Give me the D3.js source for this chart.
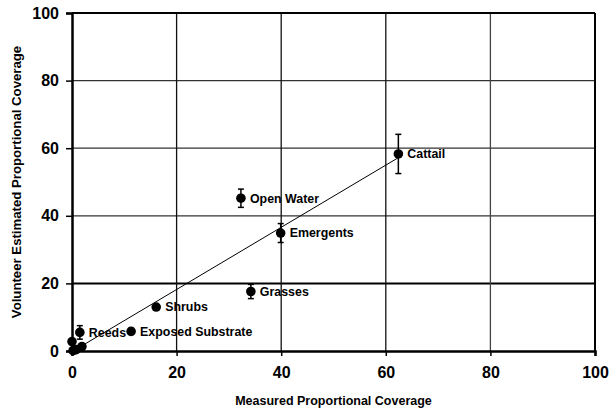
<!DOCTYPE html>
<html>
<head>
<meta charset="utf-8">
<script src="https://cdn.jsdelivr.net/npm/d3@7"></script>
<style>
  body { margin: 0; background: #fff; }
  svg text { font-family: "Liberation Sans", Arial, sans-serif; font-weight: bold; }
</style>
</head>
<body>
<div class="chart"></div>
<script>
// habitat classes, measured vs volunteer estimated coverage
var labels = ["Cattail", "Open Water", "Emergents", "Grasses", "Shrubs", "Exposed Substrate", "Reeds", "", "", "", ""];
var measured = [62.4, 32.3, 39.9, 34.2, 16.1, 11.3, 1.5, 0, 0.2, 1.9, 0.8];
var estimated = [58.3, 45.2, 34.9, 17.6, 13.0, 5.8, 5.5, 2.8, 0.1, 1.3, 0.4];
var errors = [5.8, 2.7, 2.8, 2.1, 0.6, 0.9, 2.0, 0.6, 0.4, 0.5, 0.3];

// fitted trend line (start / end)
var trendX = [0, 62.4];
var trendY = [-0.2, 57.2];

var ticks = [0, 20, 40, 60, 80, 100];

var margin = {top: 13, right: 16, bottom: 63, left: 72},
    width = 611 - margin.left - margin.right,
    height = 414 - margin.top - margin.bottom;

var x = d3.scaleLinear().domain([0, 100]).range([0, width]);
var y = d3.scaleLinear().domain([0, 100]).range([height, 0]);

var svg = d3.select(".chart").append("svg")
  .attr("width", 611)
  .attr("height", 414);

var g = svg.append("g")
  .attr("transform", "translate(" + margin.left + "," + margin.top + ")");

// gridlines
g.append("g").selectAll("line")
  .data(ticks.slice(1, -1))
  .enter().append("line")
  .attr("x1", 0).attr("x2", width)
  .attr("y1", function(d){ return y(d); })
  .attr("y2", function(d){ return y(d); })
  .attr("stroke", function(d){ return d == 20 ? "#000" : "#333"; })
  .attr("stroke-width", function(d){ return d == 20 ? 2 : 1.3; });

g.append("g").selectAll("line")
  .data(ticks.slice(1, -1))
  .enter().append("line")
  .attr("y1", 0).attr("y2", height)
  .attr("x1", function(d){ return x(d); })
  .attr("x2", function(d){ return x(d); })
  .attr("stroke", function(d){ return d == 80 ? "#444" : "#111"; })
  .attr("stroke-width", 1.3);

// top and right border
g.append("line").attr("x1", 0).attr("x2", width).attr("y1", 0).attr("y2", 0)
  .attr("stroke", "#000").attr("stroke-width", 2);
g.append("line").attr("x1", width).attr("x2", width).attr("y1", 0).attr("y2", height)
  .attr("stroke", "#000").attr("stroke-width", 2);

// axes
var xAxis = g.append("g")
  .attr("transform", "translate(0," + height + ")")
  .call(d3.axisBottom(x).tickValues(ticks).tickSize(5).tickPadding(11));
var yAxis = g.append("g")
  .call(d3.axisLeft(y).tickValues(ticks).tickSize(6).tickPadding(7));

[xAxis, yAxis].forEach(function(a){
  a.select(".domain").attr("stroke", "#000").attr("stroke-width", 2.5);
  a.selectAll(".tick line").attr("stroke", "#000").attr("stroke-width", 1.5);
  a.selectAll(".tick text").attr("fill", "#000")
    .style("font-size", "16px").style("font-family", "Liberation Sans, Arial, sans-serif").style("font-weight", "bold");
});

// trend line
g.append("line")
  .attr("x1", x(trendX[0])).attr("y1", y(trendY[0]))
  .attr("x2", x(trendX[1])).attr("y2", y(trendY[1]))
  .attr("stroke", "#000").attr("stroke-width", 1);

var pts = measured.map(function(d, i){
  return {mx: d, est: estimated[i], err: errors[i], name: labels[i]};
});

// error bars
var eb = g.append("g").selectAll("g")
  .data(pts)
  .enter().append("g");
eb.append("line")
  .attr("x1", function(d){ return x(d.mx); })
  .attr("x2", function(d){ return x(d.mx); })
  .attr("y1", function(d){ return y(d.est + d.err); })
  .attr("y2", function(d){ return y(d.est - d.err); })
  .attr("stroke", "#000").attr("stroke-width", 1.5);
[1, -1].forEach(function(s){
  eb.append("line")
    .attr("x1", function(d){ return x(d.mx) - 3; })
    .attr("x2", function(d){ return x(d.mx) + 3; })
    .attr("y1", function(d){ return y(d.est + s * d.err); })
    .attr("y2", function(d){ return y(d.est + s * d.err); })
    .attr("stroke", "#000").attr("stroke-width", 1.5);
});

// points
g.append("g").selectAll("circle")
  .data(pts)
  .enter().append("circle")
  .attr("cx", function(d){ return x(d.mx); })
  .attr("cy", function(d){ return y(d.est); })
  .attr("r", 4.8)
  .attr("fill", "#000");

// point labels
g.append("g").selectAll("text")
  .data(pts.filter(function(d){ return d.name; }))
  .enter().append("text")
  .attr("x", function(d){ return x(d.mx) + 9; })
  .attr("y", function(d){ return y(d.est); })
  .attr("dy", "0.35em")
  .style("font-size", "12.4px")
  .text(function(d){ return d.name; });

// axis titles
svg.append("text")
  .attr("x", margin.left + width / 2)
  .attr("y", 405)
  .attr("text-anchor", "middle")
  .style("font-size", "12.5px")
  .text("Measured Proportional Coverage");

svg.append("text")
  .attr("transform", "translate(21," + (margin.top + height / 2) + ") rotate(-90)")
  .attr("text-anchor", "middle")
  .style("font-size", "13.2px")
  .text("Volunteer Estimated Proportional Coverage");
</script>
</body>
</html>
